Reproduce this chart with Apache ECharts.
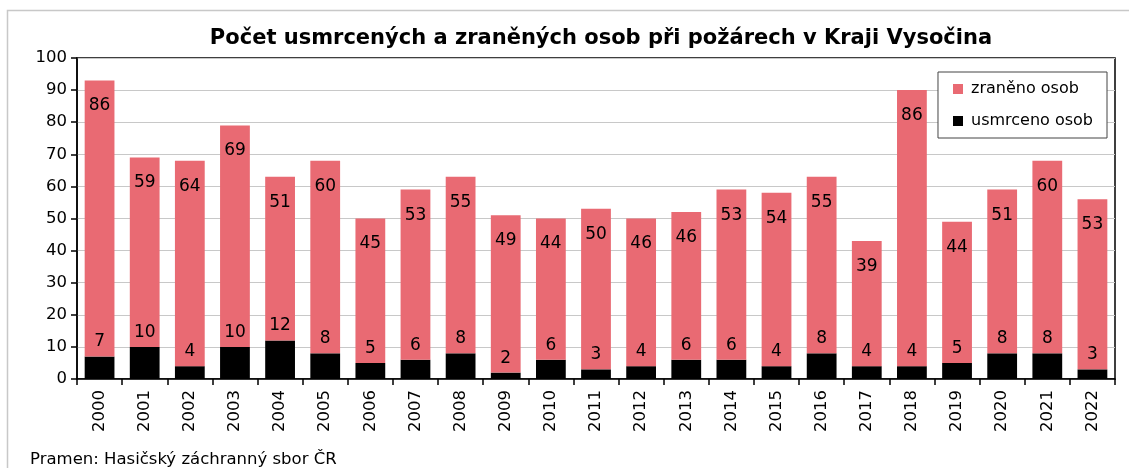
<!DOCTYPE html>
<html>
<head>
<meta charset="utf-8">
<script src="https://cdn.jsdelivr.net/npm/echarts@6/dist/echarts.min.js"></script>
<style>
  html, body { margin: 0; padding: 0; background: #fff; }
  #chart { width: 1129px; height: 468px; }
</style>
</head>
<body>
<div id="chart"></div>
<script>
// data
const years = ['2000', '2001', '2002', '2003', '2004', '2005', '2006', '2007', '2008', '2009', '2010', '2011',
  '2012', '2013', '2014', '2015', '2016', '2017', '2018', '2019', '2020', '2021', '2022']
const usmrceno = [7, 10, 4, 10, 12, 8, 5, 6, 8, 2, 6, 3, 4, 6, 6, 4, 8, 4, 4, 5, 8, 8, 3]
const zraneno = [86, 59, 64, 69, 51, 60, 45, 53, 55, 49, 44, 50, 46, 46, 53, 54, 55, 39, 86, 44, 51, 60, 53]

const font = 'Tahoma, "DejaVu Sans", Verdana, sans-serif'
const chart = echarts.init(document.getElementById('chart'))

const option = {
  animation: false,
  textStyle: { fontFamily: font },
  title: {
    text: 'Počet usmrcených a zraněných osob při požárech v Kraji Vysočina',
    left: 596,
    textAlign: 'center',
    top: 23,
    textStyle: { fontFamily: font, fontSize: 21, fontWeight: 'bold', color: '#000' }
  },
  grid: { left: 77, right: 14, top: 58, bottom: 89, show: true, borderColor: '#000', borderWidth: 1.5 },
  legend: {
    right: 22, top: 72,
    orient: 'vertical',
    backgroundColor: '#fff',
    borderColor: '#444',
    borderWidth: 1,
    padding: [9, 14, 9, 15],
    itemGap: 16,
    itemWidth: 10, itemHeight: 10,
    icon: 'rect',
    textStyle: { fontFamily: font, fontSize: 16, color: '#000', padding: [0, 0, 0, 3] },
    data: ['zraněno osob', 'usmrceno osob']
  },
  xAxis: {
    type: 'category',
    data: years,
    axisLine: { lineStyle: { color: '#000', width: 1.5 } },
    axisTick: { show: true, length: 6, lineStyle: { color: '#000', width: 1.5 } },
    axisLabel: { rotate: 90, fontSize: 16.5, color: '#000', margin: 11, fontFamily: font }
  },
  yAxis: {
    type: 'value',
    min: 0, max: 100, interval: 10,
    axisLine: { show: true, lineStyle: { color: '#000', width: 1.5 } },
    axisTick: { show: true, length: 6, lineStyle: { color: '#000', width: 1.5 } },
    axisLabel: { fontSize: 16.5, color: '#000', margin: 10, fontFamily: font },
    splitLine: { lineStyle: { color: '#c8c8c8', width: 1.2 } }
  },
  series: [
    {
      name: 'usmrceno osob',
      type: 'bar',
      stack: 'total',
      data: usmrceno,
      barCategoryGap: '34%',
      itemStyle: { color: '#000' },
      label: { show: true, position: 'top', distance: 6, fontSize: 17, color: '#000', fontFamily: font }
    },
    {
      name: 'zraněno osob',
      type: 'bar',
      stack: 'total',
      data: zraneno,
      barCategoryGap: '34%',
      itemStyle: { color: '#e96a73' },
      label: { show: true, position: 'insideTop', distance: 17, fontSize: 17, color: '#000', fontFamily: font }
    }
  ],
  graphic: [
    {
      type: 'rect',
      shape: { x: 7.5, y: 10.5, width: 1140, height: 480 },
      style: { fill: null, stroke: '#c8c8c8', lineWidth: 1.5 },
      silent: true
    },
    {
      type: 'text',
      left: 30, top: 451,
      style: { text: 'Pramen: Hasičský záchranný sbor ČR', fontSize: 16.5, fill: '#000', fontFamily: font }
    }
  ]
}

chart.setOption(option)
</script>
</body>
</html>
